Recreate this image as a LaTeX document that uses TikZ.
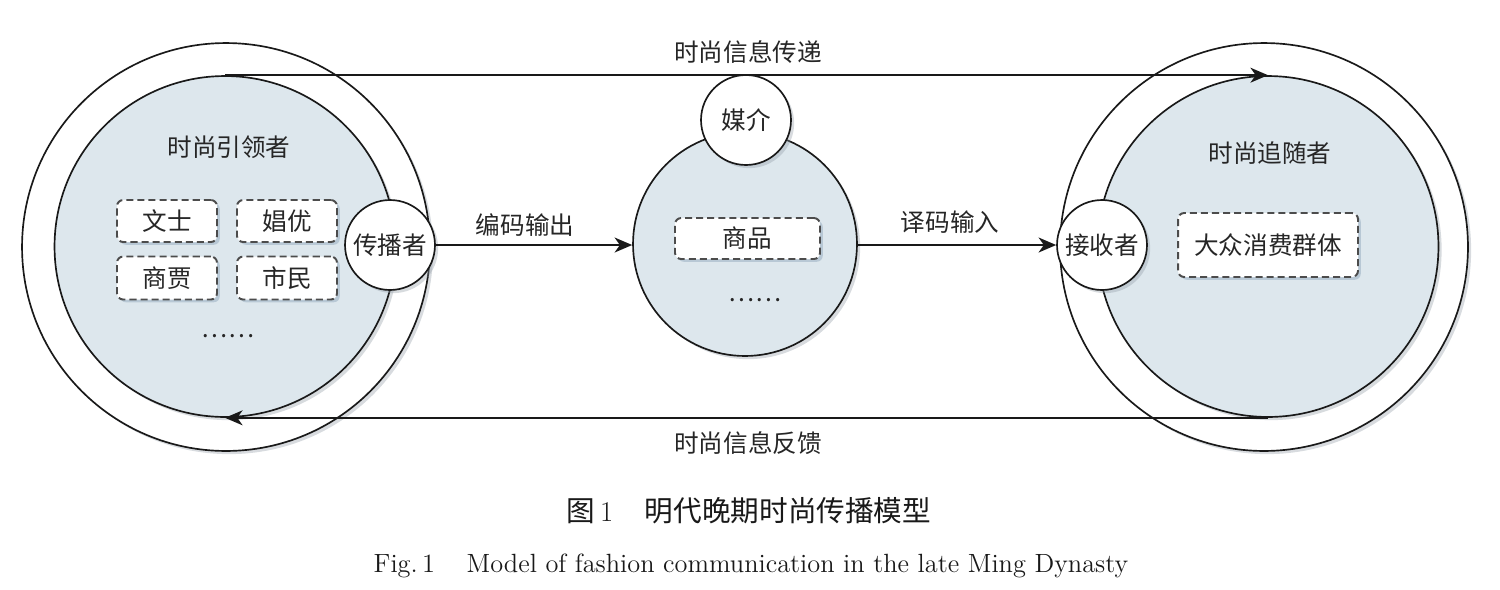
\documentclass[tikz,border=0pt]{standalone}
\usepackage{fontspec}
\newfontfamily\cjk{Noto Sans CJK SC}
\usetikzlibrary{arrows.meta,shadows}
\definecolor{fillblue}{HTML}{DDE7ED}
\definecolor{shadowgray}{HTML}{8E99A3}
\definecolor{shadowblue}{HTML}{A9BCCB}
\begin{document}
\begin{tikzpicture}[x=0.02cm,y=-0.02cm,
  cjkfont/.style={font=\cjk\fontsize{14}{16}\selectfont, text=black!85},
  softshadow/.style={drop shadow={fill=shadowgray, opacity=0.35, shadow xshift=1.8pt, shadow yshift=-1.8pt}},
  ring/.style={circle, draw=black!90, line width=0.95pt, fill=white, inner sep=0pt, minimum size=8.16cm, softshadow},
  group/.style={circle, draw=black!90, line width=0.95pt, fill=fillblue, inner sep=0pt, minimum size=6.82cm, softshadow},
  medium/.style={circle, draw=black!90, line width=0.95pt, fill=fillblue, inner sep=0pt, minimum size=4.48cm, softshadow},
  role/.style={circle, draw=black!90, line width=0.95pt, fill=white, inner sep=0pt, minimum size=1.8cm, softshadow, cjkfont},
  member/.style={rectangle, rounded corners=3.5pt, draw=black!70, line width=1.1pt,
     dash pattern=on 4pt off 2.3pt, fill=white, inner sep=0pt, cjkfont,
     drop shadow={fill=shadowblue, opacity=0.7, shadow xshift=1.6pt, shadow yshift=-1.6pt}},
  lbl/.style={cjkfont, inner sep=0pt},
  flow/.style={line width=1.1pt, draw=black!90, -{Stealth[length=10pt,width=8.5pt,inset=3pt]}}
]
\useasboundingbox (0,0) rectangle (1500,589);

% outer rings
\node[ring] (Lout) at (226,247) {};
\node[ring] (Rout) at (1264,247) {};
% groups
\node[group] (Lin) at (225,246.5) {};
\node[group] (Rin) at (1268,246.5) {};
\node[medium] (Mid) at (745,244) {};

% titles
\node[lbl] (Ltitle) at (229,147) {时尚引领者};
\node[lbl] (Rtitle) at (1270,153) {时尚追随者};

% members
\node[member, minimum width=2.0cm, minimum height=0.84cm] (wenshi) at (167,221) {文士};
\node[member, minimum width=2.0cm, minimum height=0.84cm] (changyou) at (287,221) {娼优};
\node[member, minimum width=2.0cm, minimum height=0.86cm] (shanggu) at (167,278) {商贾};
\node[member, minimum width=2.0cm, minimum height=0.86cm] (shimin) at (287,278) {市民};
\node[lbl] (Ldots) at (228,336) {……};

\node[member, minimum width=2.9cm, minimum height=0.82cm] (shangpin) at (747.5,238.5) {商品};
\node[lbl] (Mdots) at (755,300) {……};

\node[member, minimum width=3.6cm, minimum height=1.28cm] (dazhong) at (1268,245) {大众消费群体};

% roles
\node[role] (sender) at (390,245) {传播者};
\node[role] (receiver) at (1102,245) {接收者};
\node[role] (media) at (746,120) {媒介};

% connectors
\draw[flow] (Lin.north) -- (Rin.north);
\draw[flow] (Rin.south) -- (Lin.south);
\draw[flow] (sender.east) -- (sender.east -| Mid.west);
\draw[flow] (Mid.east |- receiver.west) -- (receiver.west);

% labels
\node[lbl] (top) at (748,52) {时尚信息传递};
\node[lbl] (bottom) at (748,443) {时尚信息反馈};
\node[lbl] (encode) at (525,225) {编码输出};
\node[lbl] (decode) at (950,222) {译码输入};

% captions
\node[inner sep=0pt, text=black!90, font=\fontsize{16.3}{18}\selectfont] (cap1) at (749,511)
  {{\cjk 图}\,1\hspace{1.1em}{\cjk 明代晚期时尚传播模型}};
\node[inner sep=0pt, text=black!90] (cap2) at (751,566)
  {\resizebox{429.5pt}{!}{\fontsize{12}{14}\selectfont Fig.\,1\hspace{1.2em}Model of fashion communication in the late Ming Dynasty}};
\end{tikzpicture}
\end{document}
